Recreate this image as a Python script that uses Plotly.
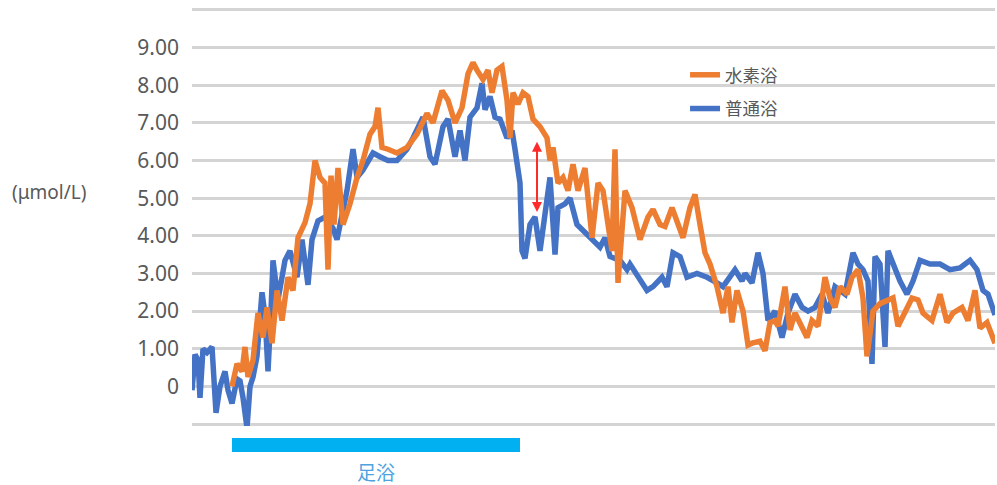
import plotly.graph_objects as go

# ---- data (sample index, μmol/L) ----
normal_t = [0, 3, 6, 8, 11, 15, 20, 24, 28, 33, 36, 40, 45, 48, 51, 55, 58, 61, 65, 70,
            73, 76, 79, 81, 86, 93, 98, 105, 110, 116, 120, 126, 133, 141, 145, 155, 161, 165, 171, 181,
            188, 196, 205, 215, 221, 231, 238, 243, 251, 256, 263, 268, 273, 278, 285, 290, 293, 298, 303, 308,
            315, 320, 323, 328, 330, 333, 338, 343, 348, 353, 358, 363, 366, 373, 378, 385, 391, 401, 408, 413,
            418, 428, 435, 438, 448, 455, 461, 470, 475, 481, 488, 495, 505, 515, 525, 531, 543, 550, 553, 560,
            566, 571, 576, 583, 590, 596, 603, 610, 616, 623, 630, 636, 643, 653, 661, 666, 671, 676, 680, 683,
            688, 693, 696, 701, 708, 715, 721, 728, 738, 748, 758, 768, 778, 785, 791, 796, 803]
normal_v = [-0.1, 0.85, 0.7, -0.3, 1.0, 0.9, 1.05, -0.7, 0.0, 0.4, -0.1, -0.45, 0.2, 0.15, -0.3, -1.1, 0.0, 0.25, 0.8, 2.5,
            1.9, 0.4, 2.0, 3.35, 2.3, 3.35, 3.6, 2.9, 3.9, 2.7, 3.9, 4.4, 4.5, 4.2, 3.9, 5.2, 6.3, 5.55, 5.75, 6.2,
            6.1, 6.0, 6.0, 6.3, 6.6, 7.15, 6.1, 5.9, 6.9, 7.1, 6.1, 6.8, 6.0, 7.15, 7.4, 8.05, 7.35, 7.7, 7.15, 7.1,
            6.6, 6.8, 6.3, 5.4, 3.6, 3.4, 4.3, 4.5, 3.6, 4.7, 5.55, 3.5, 4.75, 4.85, 5.0, 4.3, 4.15, 3.9, 3.7, 3.95,
            3.45, 3.35, 3.1, 3.25, 2.8, 2.55, 2.65, 2.9, 2.65, 3.55, 3.45, 2.9, 3.0, 2.9, 2.75, 2.65, 3.1, 2.8, 3.0, 2.75,
            3.55, 3.0, 1.75, 2.0, 1.3, 1.95, 2.45, 2.1, 2.0, 2.1, 2.45, 1.95, 2.65, 2.45, 3.55, 3.25, 3.1, 2.8, 0.6, 3.45,
            3.25, 1.05, 3.6, 3.25, 2.8, 2.45, 2.8, 3.35, 3.25, 3.25, 3.1, 3.15, 3.35, 3.1, 2.55, 2.45, 1.9]

hydro_t = [40, 45, 50, 53, 56, 61, 66, 71, 75, 80, 85, 90, 96, 101, 106, 113, 118, 123, 128, 133,
           136, 139, 142, 146, 151, 158, 165, 171, 178, 183, 186, 190, 196, 205, 215, 225, 235, 241, 250, 256,
           263, 270, 276, 281, 285, 291, 296, 300, 305, 310, 315, 318, 321, 326, 331, 336, 341, 348, 355, 358,
           361, 366, 371, 376, 381, 386, 393, 400, 406, 411, 420, 423, 426, 433, 440, 448, 456, 461, 468, 473,
           480, 485, 491, 498, 503, 508, 513, 518, 525, 531, 536, 540, 545, 551, 556, 560, 568, 573, 578, 583,
           586, 593, 598, 603, 610, 615, 620, 626, 633, 638, 643, 648, 655, 660, 666, 671, 675, 681, 688, 696,
           701, 706, 713, 720, 726, 731, 740, 748, 755, 761, 770, 776, 783, 788, 795, 803]
hydro_v = [0.0, 0.6, 0.4, 1.05, 0.25, 0.7, 1.95, 1.3, 2.1, 1.15, 2.55, 1.75, 2.9, 2.55, 3.95, 4.35, 4.85, 6.0, 5.55, 5.4,
           3.1, 5.6, 4.3, 5.8, 4.3, 4.85, 5.55, 6.0, 6.7, 6.9, 7.4, 6.35, 6.3, 6.2, 6.35, 6.7, 7.25, 7.0, 7.85, 7.6,
           7.0, 7.4, 8.3, 8.6, 8.4, 8.15, 8.4, 7.8, 8.4, 8.5, 7.6, 6.6, 7.8, 7.5, 7.8, 7.7, 7.1, 6.9, 6.6, 6.0,
           6.35, 5.4, 5.55, 5.2, 5.9, 5.2, 5.8, 3.95, 5.4, 5.2, 3.6, 6.3, 2.75, 5.2, 4.75, 3.9, 4.5, 4.7, 4.3, 4.25,
           4.75, 4.4, 3.95, 4.75, 5.1, 4.3, 3.55, 3.25, 2.65, 1.95, 2.65, 1.7, 2.55, 2.0, 1.1, 1.15, 1.2, 0.95, 1.7, 1.75,
           1.6, 2.65, 1.5, 1.95, 1.6, 1.3, 1.75, 1.6, 2.9, 2.35, 2.1, 2.65, 2.45, 2.9, 3.1, 2.35, 0.8, 2.0, 2.2, 2.3,
           2.35, 1.6, 1.95, 2.35, 2.3, 1.95, 1.75, 2.45, 1.7, 1.95, 2.1, 1.75, 2.55, 1.55, 1.7, 1.15]

tick_vals = [-1, 0, 1, 2, 3, 4, 5, 6, 7, 8, 9, 10]
tick_text = ["", "0", "1.00", "2.00", "3.00", "4.00", "5.00", "6.00", "7.00", "8.00", "9.00", ""]

footbath_start, footbath_end = 40, 328
diff_t, diff_low, diff_high = 345, 4.63, 6.54

FONT = "Noto Sans, Noto Sans CJK JP, sans-serif"
GRAY = "#595959"

fig = go.Figure()
fig.add_trace(go.Scatter(x=normal_t, y=normal_v, mode="lines", name="普通浴",
                         line=dict(color="#4472C4", width=5.5), legendgroup="b", legendrank=2))
fig.add_trace(go.Scatter(x=hydro_t, y=hydro_v, mode="lines", name="水素浴",
                         line=dict(color="#ED7D31", width=5.5), legendgroup="a", legendrank=1))

fig.update_layout(
    width=997, height=485,
    margin=dict(l=192, r=2, t=8, b=59),
    paper_bgcolor="white", plot_bgcolor="white",
    font=dict(family=FONT, color=GRAY),
    xaxis=dict(range=[0, 803], showgrid=False, showticklabels=False, zeroline=False, showline=False),
    yaxis=dict(range=[-1.05, 10.05], tickvals=tick_vals, ticktext=tick_text,
               showgrid=True, gridcolor="#d4d4d4", gridwidth=2.5, zeroline=False, showline=False,
               tickfont=dict(size=21, color=GRAY), ticklabelstandoff=12),
    legend=dict(x=0.614, xanchor="left", y=0.883, yanchor="top", font=dict(size=17.5, color=GRAY),
                tracegroupgap=8, bgcolor="rgba(0,0,0,0)"),
    showlegend=True,
)

# footbath bar
fig.add_shape(type="rect", xref="x", yref="paper", x0=footbath_start, x1=footbath_end,
              y0=-0.0622, y1=-0.0287, fillcolor="#00B0F0", line=dict(width=0))
fig.add_annotation(xref="x", yref="paper", x=(footbath_start + footbath_end) / 2, y=-0.076,
                   yanchor="top", text="足浴", showarrow=False, font=dict(size=19, color="#4DA3DF"))

# unit label
fig.add_annotation(xref="paper", yref="paper", x=-0.2267, xanchor="left", y=0.56,
                   text="(μmol/L)", showarrow=False, font=dict(size=19, color=GRAY))

# difference arrow
fig.add_annotation(x=diff_t, y=diff_low, ax=diff_t, ay=diff_high, xref="x", yref="y",
                   axref="x", ayref="y", text="", showarrow=True, arrowside="end+start",
                   arrowhead=2, arrowsize=1, arrowwidth=2, arrowcolor="#FF2A2A")

fig.write_html("out.html")
